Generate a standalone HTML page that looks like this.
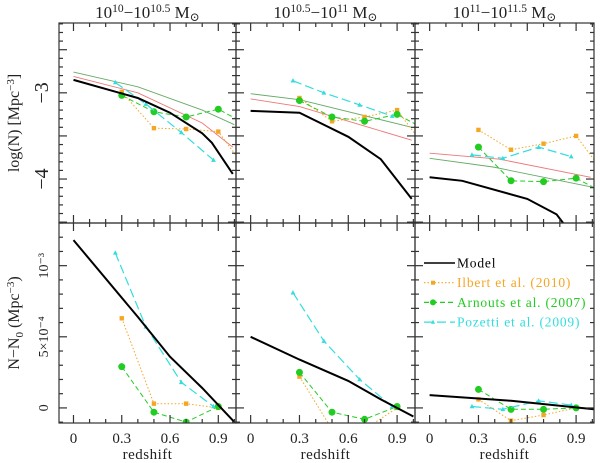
<!DOCTYPE html>
<html><head><meta charset="utf-8"><style>
html,body{margin:0;padding:0;background:#fff;}
svg{display:block;font-family:"Liberation Serif","DejaVu Serif",serif;}
</style></head><body>
<svg id="chart" width="600" height="463" viewBox="0 0 600 463" xmlns="http://www.w3.org/2000/svg"></svg>
<script>
// ---- data ----
const panelTitles = [["10","10","10","10.5"],["10","10.5","10","11"],["10","11","10","11.5"]];
const xTicks = [0, 0.3, 0.6, 0.9];
const xTickLabels = ["0", "0.3", "0.6", "0.9"];
const topYTicks = [-3, -4];
const topYTickLabels = ["\u22123", "\u22124"];
const botYTicks = [0, 0.5, 1.0];
const botYTickLabels = ["0", "5\u00d710\u207b\u2074", "10\u207b\u00b3"];

// top row: log(N)
const modelTopZ = [[0,0.4,0.6,0.8,0.86,0.99],[0,0.3,0.6,0.8,0.99],[0,0.2,0.6,0.78,0.82]];
const modelTopV = [[-2.85,-3.06,-3.23,-3.47,-3.58,-3.94],[-3.21,-3.23,-3.51,-3.77,-4.23],[-3.98,-4.02,-4.23,-4.41,-4.51]];
const redTopZ = [[0,0.4,0.8,0.99],[0,0.3,0.99],[0,0.43,0.99]];
const redTopV = [[-2.81,-3.0,-3.35,-3.63],[-3.07,-3.16,-3.55],[-3.70,-3.77,-3.98]];
const greenTopZ = [[0,0.4,0.8,1.0],[0,0.3,0.99],[0,0.39,0.99]];
const greenTopV = [[-2.76,-2.93,-3.2,-3.37],[-3.01,-3.08,-3.40],[-3.76,-3.86,-4.09]];
const ilbertZ = [0.3,0.5,0.7,0.9];
const ilbertTop = [[-2.99,-3.41,-3.42,-3.45],[-3.06,-3.33,-3.28,-3.2],[-3.43,-3.66,-3.59,-3.5]];
const arnoutsZ = [0.3,0.5,0.7,0.9];
const arnoutsTop = [[-3.03,-3.22,-3.28,-3.19],[-3.09,-3.28,-3.33,-3.25],[-3.63,-4.02,-4.03,-3.99]];
const pozettiZ = [0.26,0.45,0.67,0.87];
const pozettiTop = [[-2.88,-3.13,-3.46,-3.78],[-2.86,-3.0,-3.14,-3.27],[-3.72,-3.76,-3.63,-3.74]];

// bottom row: N - N0 in units of 1e-3
const modelBotZ = [[0,0.4,0.6,0.8,1.0],[0,0.3,0.6,0.8,1.0],[0,0.5,1.01]];
const modelBotV = [[1.18,0.64,0.36,0.14,-0.1],[0.5,0.34,0.19,0.06,-0.06],[0.09,0.05,-0.01]];
const ilbertBot = [[0.63,0.03,0.03,0.0],[0.22,-0.15,-0.15,0.0],[0.06,-0.09,-0.05,0.0]];
const arnoutsBot = [[0.29,-0.03,-0.1,0.01],[0.25,-0.03,-0.08,0.01],[0.13,-0.01,-0.01,0.0]];
const pozettiBot = [[1.09,0.57,0.18,0.01],[0.81,0.47,0.2,0.01],[0.01,-0.01,0.05,0.02]];

const legendLabels = ["Model","Ilbert et al. (2010)","Arnouts et al. (2007)","Pozetti et al. (2009)"];

// ---- geometry ----
const NS = "http://www.w3.org/2000/svg";
const svg = document.getElementById('chart');
const colX = [59, 236, 415];
const colW = [177, 179, 179];
const rowY = [23, 223];
const rowH = 200;
const zMin = -0.09, zMax = 1.01;
const topMin = -4.51, topMax = -2.19;
const botMin = -0.106, botMax = 1.30;
const C_ILB = "#f5a623", C_ARN = "#22cc22", C_POZ = "#33dddd";

function xs(col, z){ return colX[col] + (z - zMin) / (zMax - zMin) * colW[col]; }
function ysTop(v){ return rowY[0] + (topMax - v) / (topMax - topMin) * rowH; }
function ysBot(v){ return rowY[1] + (botMax - v) / (botMax - botMin) * rowH; }

function el(tag, attrs, parent){
  const e = document.createElementNS(NS, tag);
  for (const k in attrs) e.setAttribute(k, attrs[k]);
  (parent || svg).appendChild(e);
  return e;
}

const defs = el('defs', {});
for (let r = 0; r < 2; r++) for (let c = 0; c < 3; c++) {
  const cp = el('clipPath', {id: 'cp' + r + c}, defs);
  el('rect', {x: colX[c], y: rowY[r], width: colW[c], height: rowH}, cp);
}

function series(r, c, zs, vs, color, width, dash, marker, name){
  const g = el('g', {'clip-path': 'url(#cp' + r + c + ')'});
  
  
  const ys = r === 0 ? ysTop : ysBot;
  const pts = zs.map((z, i) => xs(c, z).toFixed(1) + ',' + ys(vs[i]).toFixed(1)).join(' ');
  const line = el('polyline', {points: pts, fill: 'none', stroke: color, 'stroke-width': width}, g);
  if (dash) line.setAttribute('stroke-dasharray', dash);
  
  
  if (marker) zs.forEach((z, i) => {
    const x = xs(c, z), y = ys(vs[i]);
    let m;
    if (marker === 'circle') m = el('circle', {cx: x, cy: y, r: 3.5, fill: color}, g);
    else if (marker === 'square') m = el('rect', {x: x - 2.2, y: y - 2.2, width: 4.4, height: 4.4, fill: color}, g);
    else m = el('polygon', {points: `${x},${y-2.6} ${x-2.4},${y+1.8} ${x+2.4},${y+1.8}`, fill: color}, g);
    
    
  });
}

for (let c = 0; c < 3; c++) {
  series(0, c, redTopZ[c], redTopV[c], '#ee7777', 0.9, null, null, 'model-variant-red-top-' + c);
  series(0, c, greenTopZ[c], greenTopV[c], '#66aa66', 0.9, null, null, 'model-variant-green-top-' + c);
  series(0, c, ilbertZ.concat([1.02]), ilbertTop[c].concat([ilbertTop[c][3] - 0.3]), C_ILB, 1, '1.5,2', null, 'ilbert-top-line-' + c);
  series(0, c, ilbertZ, ilbertTop[c], C_ILB, 0, null, 'square', 'ilbert-top-' + c);
  series(0, c, arnoutsZ.concat([1.02]), arnoutsTop[c].concat([arnoutsTop[c][3] - 0.12]), C_ARN, 1, '5,3', null, 'arnouts-top-line-' + c);
  series(0, c, arnoutsZ, arnoutsTop[c], C_ARN, 0, null, 'circle', 'arnouts-top-' + c);
  series(0, c, pozettiZ, pozettiTop[c], C_POZ, 1.2, '9,4', 'triangle', 'pozetti-top-' + c);
  series(0, c, modelTopZ[c], modelTopV[c], '#000', 2, null, null, 'model-top-' + c);
  series(1, c, ilbertZ, ilbertBot[c], C_ILB, 1, '1.5,2', 'square', 'ilbert-bottom-' + c);
  series(1, c, arnoutsZ, arnoutsBot[c], C_ARN, 1, '5,3', 'circle', 'arnouts-bottom-' + c);
  series(1, c, pozettiZ, pozettiBot[c], C_POZ, 1.2, '9,4', 'triangle', 'pozetti-bottom-' + c);
  series(1, c, modelBotZ[c], modelBotV[c], '#000', 2, null, null, 'model-bottom-' + c);
}

const AX = '#333';
for (let r = 0; r < 2; r++) for (let c = 0; c < 3; c++) {
  const g = el('g', {stroke: AX, 'stroke-width': 1.2, fill: 'none'});
  
  
  const x0 = colX[c], x1 = colX[c] + colW[c], y0 = rowY[r], y1 = rowY[r] + rowH;
  el('rect', {x: x0, y: y0, width: colW[c], height: rowH}, g);
  for (let k = 0; k <= 10; k++) {
    const z = k / 10, x = xs(c, z), L = (k % 3 === 0) ? 8 : 4;
    el('line', {x1: x, y1: y1, x2: x, y2: y1 - L}, g);
    el('line', {x1: x, y1: y0, x2: x, y2: y0 + L}, g);
  }
  if (r === 0) {
    for (let k = -22; k >= -45; k--) {
      const v = k / 10; if (v < topMin || v > topMax) continue;
      const y = ysTop(v), L = (k % 5 === 0) ? 8 : 4;
      el('line', {x1: x0, y1: y, x2: x0 + L, y2: y}, g);
      el('line', {x1: x1, y1: y, x2: x1 - L, y2: y}, g);
    }
  } else {
    for (let k = -1; k <= 13; k++) {
      const v = k / 10; if (v < botMin || v > botMax) continue;
      const y = ysBot(v), L = (k % 5 === 0) ? 8 : 4;
      el('line', {x1: x0, y1: y, x2: x0 + L, y2: y}, g);
      el('line', {x1: x1, y1: y, x2: x1 - L, y2: y}, g);
    }
  }
}

for (let c = 0; c < 3; c++) {
  xTicks.forEach((z, i) => {
    const t = el('text', {x: xs(c, z), y: 443, 'font-size': 15, 'text-anchor': 'middle', fill: '#222'});
    t.textContent = xTickLabels[i];
    
    
  });
  const xt = el('text', {x: colX[c] + colW[c] / 2, y: 459, 'font-size': 15, 'text-anchor': 'middle', fill: '#222', 'letter-spacing': 0.5});
  xt.textContent = 'redshift';
  
  
  const p = panelTitles[c];
  const tt = el('text', {x: colX[c] + colW[c] / 2, y: 18, 'font-size': 17, 'text-anchor': 'middle', fill: '#222'});
  tt.innerHTML = `${p[0]}<tspan dy="-6" font-size="11.5">${p[1]}</tspan><tspan dy="6">\u2212${p[2]}</tspan><tspan dy="-6" font-size="11.5">${p[3]}</tspan><tspan dy="6">  M</tspan><tspan font-size="12" dy="3">\u2299</tspan>`;
  
  
}

topYTicks.forEach((v, i) => {
  const y = ysTop(v);
  const t = el('text', {x: 0, y: 0, 'font-size': 20, 'text-anchor': 'middle', fill: '#222', transform: `translate(48,${y}) rotate(-90)`});
  t.textContent = topYTickLabels[i];
  
  
});
botYTicks.forEach((v, i) => {
  const y = ysBot(v);
  const t = el('text', {x: 0, y: 0, 'font-size': 14, 'text-anchor': 'middle', fill: '#222', transform: `translate(48,${y}) rotate(-90)`});
  t.textContent = botYTickLabels[i];
  
  
});
const yt1 = el('text', {x: 0, y: 0, 'font-size': 16, 'text-anchor': 'middle', fill: '#222', transform: 'translate(19,123) rotate(-90)'});
yt1.innerHTML = 'log(N)  [Mpc<tspan dy="-5" font-size="11">\u22123</tspan><tspan dy="5">]</tspan>';


const yt2 = el('text', {x: 0, y: 0, 'font-size': 16, 'text-anchor': 'middle', fill: '#222', transform: 'translate(19,323) rotate(-90)'});
yt2.innerHTML = 'N\u2212N<tspan dy="4" font-size="11">0</tspan><tspan dy="-4">  (Mpc</tspan><tspan dy="-5" font-size="11">\u22123</tspan><tspan dy="5">)</tspan>';



const legColors = ['#000', C_ILB, C_ARN, C_POZ];
const legDash = [null, '1.5,2', '5,3', '9,4'];
const legMark = [null, 'square', 'circle', 'triangle'];
const lg = el('g', {});


legendLabels.forEach((lab, i) => {
  const y = 263 + i * 19.7;
  const ln = el('line', {x1: 424, y1: y, x2: 455, y2: y, stroke: legColors[i], 'stroke-width': i === 0 ? 1.5 : 1.2}, lg);
  if (legDash[i]) ln.setAttribute('stroke-dasharray', legDash[i]);
  
  
  if (legMark[i] === 'square') el('rect', {x: 431, y: y - 2, width: 4, height: 4, fill: legColors[i]}, lg);
  if (legMark[i] === 'circle') el('circle', {cx: 433, cy: y, r: 3, fill: legColors[i]}, lg);
  if (legMark[i] === 'triangle') el('polygon', {points: `433,${y-2.5} 431,${y+1.7} 435,${y+1.7}`, fill: legColors[i]}, lg);
  const t = el('text', {x: 457, y: y + 4.5, 'font-size': 13.5, 'letter-spacing': 0.8, fill: i === 0 ? '#000' : legColors[i]}, lg);
  t.textContent = lab;
  
  
});
</script>
</body></html>
